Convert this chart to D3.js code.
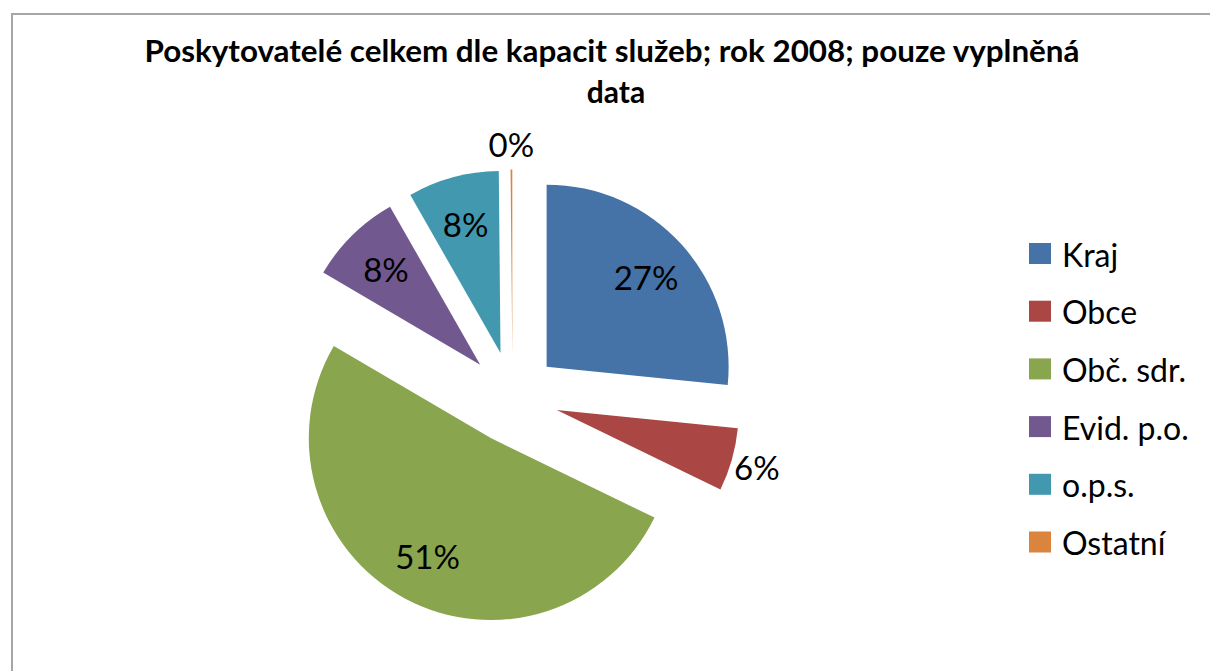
<!DOCTYPE html>
<html lang="cs">
<head>
  <meta charset="UTF-8">
  <title>Poskytovatelé celkem dle kapacit služeb</title>
  <script src="https://d3js.org/d3.v7.min.js"></script>
  <style>
    html, body { margin: 0; padding: 0; background: #fff; }
    svg { display: block; }
    text { font-family: Lato, "Open Sans", sans-serif; fill: #000; }
    .title { font-weight: bold; font-size: 30px; }
    .label { font-size: 33px; }
    .legend text { font-size: 32px; }
  </style>
</head>
<body>
  <svg width="1210" height="671"></svg>

  <script>
    // 値（%）
    const categories = ["Kraj", "Obce", "Obč. sdr.", "Evid. p.o.", "o.p.s.", "Ostatní"];
    const values = [26.6, 5.6, 51.25, 8.3, 8.1, 0.15];
    const colors = ["#4572A7", "#AA4643", "#89A54E", "#71588F", "#4198AF", "#DB843D"];
    const titleLines = ["Poskytovatelé celkem dle kapacit služeb; rok 2008; pouze vyplněná", "data"];

    const svg = d3.select("svg");

    // 枠
    svg.append("path")
      .attr("d", "M12,700 L12,14 L1220,14")
      .attr("fill", "none")
      .attr("stroke", "#a6a6a6")
      .attr("stroke-width", 2);

    // タイトル
    svg.append("text")
      .attr("class", "title")
      .attr("x", 612).attr("y", 62)
      .attr("text-anchor", "middle")
      .attr("textLength", 935)
      .attr("lengthAdjust", "spacingAndGlyphs")
      .text(titleLines[0]);
    svg.append("text")
      .attr("class", "title")
      .attr("x", 616).attr("y", 103)
      .attr("text-anchor", "middle")
      .text(titleLines[1]);

    const cx = 512.5, cy = 397.5, radius = 182, explode = 46;

    const pie = d3.pie().sort(null).value(d => d.value);
    const arcs = pie(categories.map((c, i) => ({ name: c, value: values[i], color: colors[i] })));
    const arc = d3.arc().innerRadius(0).outerRadius(radius);
    const total = d3.sum(values);

    const g = svg.append("g").attr("transform", `translate(${cx},${cy})`);

    function offset(d, r) {
      const a = (d.startAngle + d.endAngle) / 2;
      return [Math.sin(a) * r, -Math.cos(a) * r];
    }

    const slice = g.selectAll(".slice")
      .data(arcs)
      .enter()
      .append("g")
      .attr("class", "slice")
      .attr("transform", d => `translate(${offset(d, explode)})`);

    slice.append("path")
      .attr("d", arc)
      .attr("fill", d => d.data.color);

    // ラベル（小さい扇は外側）
    slice.append("text")
      .attr("class", "label")
      .attr("text-anchor", "middle")
      .attr("dominant-baseline", "central")
      .attr("transform", d => {
        const p = offset(d, d.data.value < 7 ? 208 : 134);
        return `translate(${p})`;
      })
      .text(d => Math.round(d.data.value / total * 100) + "%");

    // 凡例
    const legend = svg.append("g").attr("class", "legend")
      .attr("transform", "translate(1029,243)");
    const item = legend.selectAll("g")
      .data(categories)
      .enter()
      .append("g")
      .attr("transform", (d, i) => `translate(0,${i * 57.7})`);
    item.append("rect")
      .attr("width", 22).attr("height", 21)
      .attr("fill", (d, i) => colors[i]);
    item.append("text")
      .attr("x", 33).attr("y", 11)
      .attr("dominant-baseline", "central")
      .text(d => d);
  </script>
</body>
</html>
